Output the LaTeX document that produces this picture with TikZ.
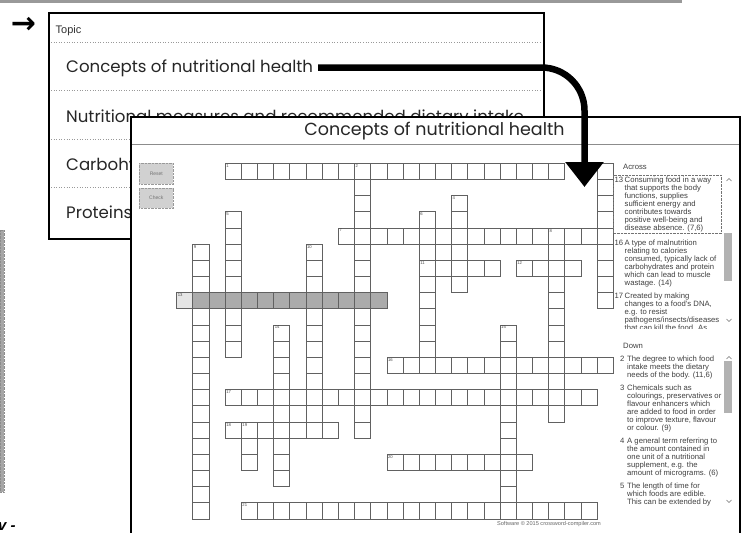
\documentclass[tikz,border=0pt]{standalone}
\usepackage{fontspec}
\setmainfont{Liberation Sans}
\newfontfamily\topicfont{Poppins}
\newfontfamily\arrowfont{DejaVu Sans}
\usetikzlibrary{arrows.meta}

\tikzset{
  win/.style={draw=black, line width=2pt, fill=white},
  sep/.style={draw=black!40, dotted, line width=0.6pt},
  topicitem/.style={font=\topicfont\fontsize{16.6}{18}\selectfont, text=black!85, anchor=base west, inner sep=0pt},
  cellbox/.style={draw=black!62, line width=0.8pt},
  cellnum/.style={font=\fontsize{4.2}{4.2}\selectfont, text=black!70, anchor=north west, inner sep=0.9pt},
  cluetxt/.style={font=\fontsize{7.7}{8}\selectfont, text=black!75, anchor=base west, inner sep=0pt},
  button/.style={draw=black!40, densely dotted, fill=black!18, minimum width=34pt, minimum height=20.5pt, inner sep=0pt, font=\fontsize{5}{5}\selectfont, text=black!55},
  chevron/.style={draw=black!55, line width=0.6pt},
  thumb/.style={fill=black!30},
  bigarrow/.style={line width=6.5pt, rounded corners=43pt, -{Triangle[width=37pt,length=25pt]}},
}

% one clue: name, x of number, x of text, first baseline, number, lines
\newcommand\cluelines[6]{%
  \node[cluetxt] (#1) at (#2,#4) {#5};
  \foreach \t [count=\k from 0] in {#6}
    \node[cluetxt] (#1-\k) at (#3,#4+\k*8) {\t};
}

\begin{document}
\begin{tikzpicture}[x=1pt,y=-1pt]
\useasboundingbox (0,0) rectangle (745,533);
\clip (0,0) rectangle (745,533);

% screen behind
\fill[black!40] (0,0) rectangle (682,3);
\draw[black!45, densely dotted, fill=black!35] (0,230) rectangle (4,492);
\node[font=\bfseries\itshape\fontsize{15}{15}\selectfont, anchor=base west, inner sep=0pt] (cut) at (-2,530) {v -};
\node[font=\arrowfont\bfseries\fontsize{30}{30}\selectfont, inner sep=0pt] (pointer) at (23.5,25) {→};

% topic list
\draw[win] (49,12.5) rectangle (544,239);
\node[anchor=base west, inner sep=0pt, font=\fontsize{11}{11}\selectfont, text=black!80] (topichead) at (55.5,33.3) {Topic};
\foreach \y in {42,90.7,139,187.5}
  \draw[sep] (51,\y) -- (542,\y);
\node[topicitem] (item1) at (66,72.7) {Concepts of nutritional health};
\node[topicitem] (item2) at (66,122.5) {Nutritional measures and recommended dietary intake};
\node[topicitem] (item3) at (66,170.7) {Carbohydrates};
\node[topicitem] (item4) at (66,218.5) {Proteins};

% crossword window
\draw[win] (131,116.5) rectangle (739.5,560);
\node[font=\topicfont\fontsize{17.5}{20}\selectfont, text=black!85, anchor=base, inner sep=0pt] (title) at (434.5,135.5) {Concepts of nutritional health};
\draw[black!45, line width=1pt] (132,144.3) -- (738.5,144.3);
\node[button] (reset) at (156.3,173.7) {Reset};
\node[button] (check) at (156.3,198) {Check};

\begin{scope}[shift={(176.7,163.3)}, x=16.17pt, y=-16.17pt]
  % 13 across is selected
  \fill[black!10] (0,8) rectangle (1,9);
  \fill[black!33] (1,8) rectangle (13,9);
  % across: row/col/length
  \foreach \r/\c/\n in {0/3/21, 4/10/17, 6/15/5, 6/21/4, 8/0/13, 12/13/14, 14/3/23, 16/3/7, 18/13/9, 21/4/22}
    \foreach \i in {1,...,\n}
      \draw[cellbox] (\c+\i-1,\r) rectangle ++(1,1);
  % down: col/row/length
  \foreach \c/\r/\n in {11/0/17, 26/0/9, 17/2/6, 3/3/9, 15/3/10, 23/4/12, 1/5/17, 8/5/12, 6/10/10, 20/10/12, 4/16/3}
    \foreach \i in {1,...,\n}
      \draw[cellbox] (\c,\r+\i-1) rectangle ++(1,1);
  \foreach \n/\c/\r in {1/3/0, 2/11/0, 3/26/0, 4/17/2, 5/3/3, 6/15/3, 7/10/4, 8/23/4, 9/1/5, 10/8/5, 11/15/6, 12/21/6, 13/0/8, 14/6/10, 15/20/10, 16/13/12, 17/3/14, 18/3/16, 19/4/16, 20/13/18, 21/4/21}
    \node[cellnum] (num\n) at (\c,\r) {\n};
\end{scope}

% clues
\node[cluetxt] (acrosshead) at (623,169.5) {Across};
\draw[black!55, densely dotted] (613.5,175) rectangle (721,233.5);
\begin{scope}
  \clip (610,174) rectangle (722,328.5);
  \cluelines{a13}{614.5}{624.5}{182.5}{13}{{Consuming food in a way},{that supports the body},{functions, supplies},{sufficient energy and},{contributes towards},{positive well-being and},{disease absence. (7,6)}}
  \cluelines{a16}{614.5}{624.5}{245.5}{16}{{A type of malnutrition},{relating to calories},{consumed, typically lack of},{carbohydrates and protein},{which can lead to muscle},{wastage. (14)}}
  \cluelines{a17}{614.5}{624.5}{298.5}{17}{{Created by making},{changes to a food's DNA,},{e.g. to resist},{{pathogens/insects/diseases}},{that can kill the food. As}}
\end{scope}
\draw[chevron] (726.5,181) -- (729,178.5) -- (731.5,181);
\fill[thumb] (724,233) rectangle (732,281);
\draw[chevron] (726.5,319) -- (729,321.5) -- (731.5,319);

\node[cluetxt] (downhead) at (623,348.5) {Down};
\cluelines{d2}{620}{627}{361.2}{2}{{The degree to which food},{intake meets the dietary},{needs of the body. (11,6)}}
\cluelines{d3}{620}{627}{390.2}{3}{{Chemicals such as},{colourings, preservatives or},{flavour enhancers which},{are added to food in order},{to improve texture, flavour},{or colour. (9)}}
\cluelines{d4}{620}{627}{443.2}{4}{{A general term referring to},{the amount contained in},{one unit of a nutritional},{supplement, e.g. the},{amount of micrograms. (6)}}
\cluelines{d5}{620}{627}{488.2}{5}{{The length of time for},{which foods are edible.},{This can be extended by}}
\draw[chevron] (726.5,359) -- (729,356.5) -- (731.5,359);
\fill[thumb] (724,361) rectangle (732,413);
\draw[chevron] (726.5,500) -- (729,502.5) -- (731.5,500);

\node[font=\fontsize{5.6}{6}\selectfont, text=black!60, inner sep=0pt] (credit) at (549,524.5) {Software © 2015 crossword-compiler.com};

% link from topic to its puzzle
\coordinate (arrstart) at (318,67.5);
\coordinate (arrend) at (584.5,187);
\draw[bigarrow] (arrstart) -| (arrend);
\end{tikzpicture}
\end{document}
